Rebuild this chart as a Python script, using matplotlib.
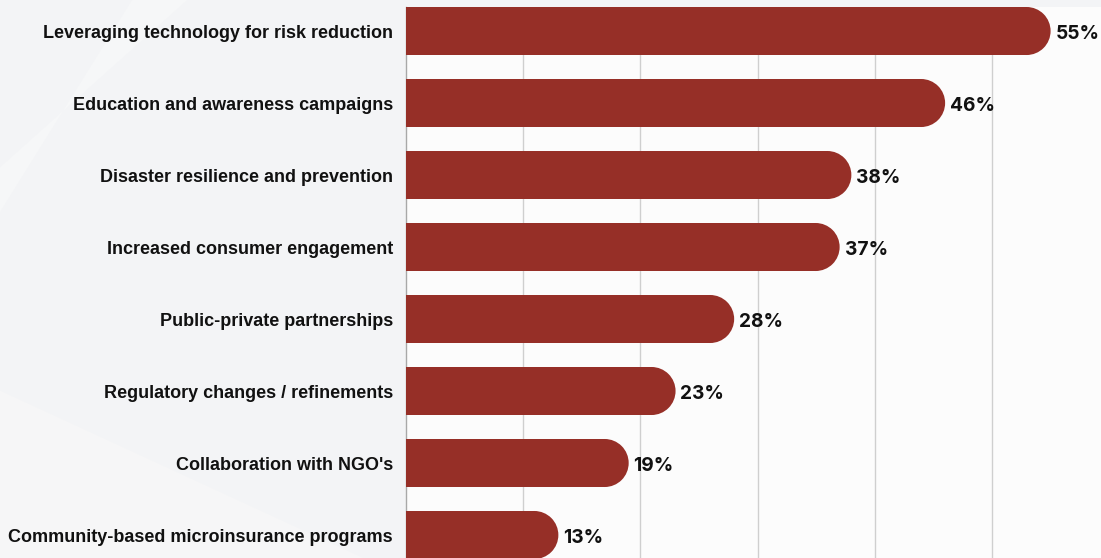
import matplotlib.pyplot as plt
from matplotlib.patches import Ellipse, Polygon

# Survey results, top to bottom
categories = [
    'Leveraging technology for risk reduction',
    'Education and awareness campaigns',
    'Disaster resilience and prevention',
    'Increased consumer engagement',
    'Public-private partnerships',
    'Regulatory changes / refinements',
    "Collaboration with NGO's",
    'Community-based microinsurance programs',
]
shares = [55, 46, 38, 37, 28, 23, 19, 13]

bar_color = '#962f27'
bar_h = 0.667

fig = plt.figure(figsize=(11.01, 5.58), dpi=100)
fig.patch.set_facecolor('#f3f4f6')

# soft light streaks in the background
fig.patches.append(Polygon([(0, 0.62), (0, 0.70), (0.17, 1.0), (0.12, 1.0)],
                           closed=True, transform=fig.transFigure,
                           facecolor='#f6f7f8', edgecolor='none', zorder=-5))
fig.patches.append(Polygon([(0.0, 0.0), (0.0, 0.30), (0.33, 0.0)],
                           closed=True, transform=fig.transFigure,
                           facecolor='#f6f6f7', edgecolor='none', zorder=-5))

# plot area starts at the top edge of the first bar
top_px = 7
ax = fig.add_axes([406 / 1101, 0, 1 - 406 / 1101, (558 - top_px) / 558])
ax.set_facecolor('#fcfcfc')

px_per_unit = 11.72
xmax = (1101 - 406) / px_per_unit
ax.set_xlim(0, xmax)
ax.set_ylim(7 + 23 / 72, -bar_h / 2)

# round cap: horizontal radius equals half the bar height in pixels
rx = (bar_h * 72 / 2) / px_per_unit

for i, (cat, v) in enumerate(zip(categories, shares)):
    ax.barh(i, v - rx, height=bar_h, color=bar_color, zorder=3)
    ax.add_patch(Ellipse((v - rx, i), 2 * rx, bar_h, facecolor=bar_color,
                         edgecolor='none', zorder=3))
    ax.annotate(f'{v}%', (v, i), xytext=(3.5, -2), textcoords='offset points',
                va='center', ha='left', fontsize=13.8, fontweight='bold',
                family='Inter', color='#111111', annotation_clip=False)

ax.set_yticks(range(len(categories)))
ax.set_yticklabels(categories, fontsize=12.95, fontweight='bold',
                   family='Liberation Sans', color='#111111')
ax.tick_params(axis='y', length=0, pad=9.5)
ax.set_xticks([10, 20, 30, 40, 50])
ax.tick_params(axis='x', length=0, labelbottom=False)
ax.grid(axis='x', color='#cfcfcf', lw=1, zorder=0)

for s in ['top', 'right', 'bottom']:
    ax.spines[s].set_visible(False)
ax.spines['left'].set_color('#a8a8a8')
ax.spines['left'].set_linewidth(1)

fig.savefig('out.png', dpi=100, facecolor=fig.get_facecolor())
